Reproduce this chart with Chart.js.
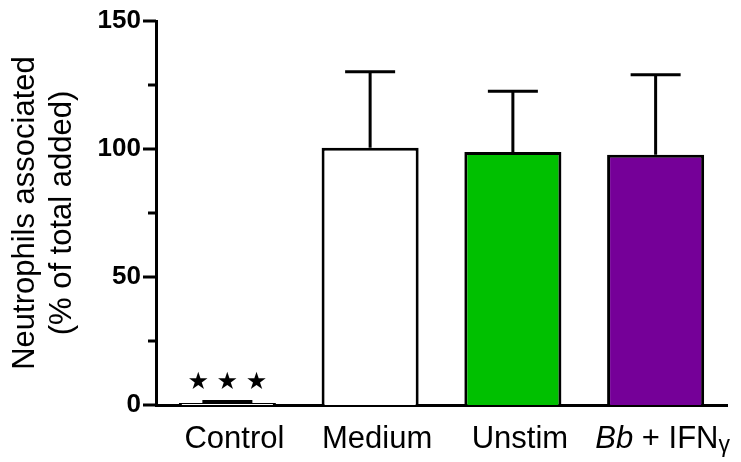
<!DOCTYPE html>
<html>
<head>
<meta charset="utf-8">
<script src="https://cdn.jsdelivr.net/npm/chart.js@4"></script>
<style>
  html, body { margin: 0; padding: 0; background: #fff; }
  #wrap { width: 741px; height: 462px; }
</style>
</head>
<body>
<div id="wrap"><canvas id="chart"></canvas></div>
<script>
// bar chart data
const categories = ['Control', 'Medium', 'Unstim', 'Bb + IFNγ'];
const means = [0.8, 100.5, 98.8, 97.8];
const errors = [0.6, 29.7, 23.8, 31.2];
const barColors = ['#ffffff', '#ffffff', '#00c000', '#750098'];
const majorTicks = [0, 50, 100, 150];
const minorTicks = [25, 75, 125];
const significance = ['★★★', '', '', ''];

// label pieces, so Bb can be italic and gamma smaller
const labelParts = [
  [{ t: 'Control' }],
  [{ t: 'Medium' }],
  [{ t: 'Unstim' }],
  [{ t: 'Bb', italic: true }, { t: ' + IFN' }, { t: 'γ', small: true }]
];

const FONT = '"Liberation Sans", Arial, sans-serif';

const errorBars = {
  id: 'errorBars',
  afterDatasetsDraw(chart) {
    const { ctx, scales: { x, y } } = chart;
    ctx.save();
    ctx.strokeStyle = '#000';
    ctx.lineWidth = 3;
    ctx.lineCap = 'butt';
    means.forEach((m, i) => {
      const cx = x.getPixelForValue(i);
      const y0 = y.getPixelForValue(m);
      const y1 = y.getPixelForValue(m + errors[i]);
      ctx.beginPath();
      ctx.moveTo(cx, y0);
      ctx.lineTo(cx, y1);
      ctx.moveTo(cx - 25, y1);
      ctx.lineTo(cx + 25, y1);
      ctx.stroke();
      if (significance[i]) {
        ctx.fillStyle = '#000';
        ctx.font = '24px "DejaVu Sans", sans-serif';
        ctx.textAlign = 'center';
        ctx.textBaseline = 'alphabetic';
        ctx.fillText(significance[i].split('').join(' '), cx, y1 - 12);
      }
    });
    ctx.restore();
  }
};

// y ticks (major longer than minor) and the category labels
const axisDecor = {
  id: 'axisDecor',
  afterDraw(chart) {
    const { ctx, scales: { x, y } } = chart;
    const left = chart.chartArea.left;
    ctx.save();
    ctx.strokeStyle = '#000';
    ctx.lineWidth = 3;
    majorTicks.forEach(v => {
      const py = y.getPixelForValue(v);
      ctx.beginPath(); ctx.moveTo(left - 13, py); ctx.lineTo(left, py); ctx.stroke();
    });
    minorTicks.forEach(v => {
      const py = y.getPixelForValue(v);
      ctx.beginPath(); ctx.moveTo(left - 8, py); ctx.lineTo(left, py); ctx.stroke();
    });

    ctx.fillStyle = '#000';
    ctx.textBaseline = 'alphabetic';
    ctx.textAlign = 'left';
    const base = y.getPixelForValue(0) + 43;
    labelParts.forEach((parts, i) => {
      const fontOf = p => (p.italic ? 'italic ' : '') + (p.small ? '23px ' : '31px ') + FONT;
      let w = 0;
      parts.forEach(p => { ctx.font = fontOf(p); w += ctx.measureText(p.t).width; });
      let px = x.getPixelForValue(i) + 7 - w / 2;
      parts.forEach(p => {
        ctx.font = fontOf(p);
        ctx.fillText(p.t, px, base + (p.small ? 4 : 0));
        px += ctx.measureText(p.t).width;
      });
    });
    ctx.restore();
  }
};

new Chart(document.getElementById('chart'), {
  type: 'bar',
  data: {
    labels: categories,
    datasets: [{
      data: means,
      backgroundColor: barColors,
      borderColor: '#000',
      borderWidth: 3,
      borderSkipped: 'start',
      barPercentage: 0.68,
      categoryPercentage: 1
    }]
  },
  options: {
    responsive: true,
    maintainAspectRatio: false,
    animation: false,
    layout: { padding: { top: 21, right: 14, left: 0, bottom: 0 } },
    plugins: { legend: { display: false }, tooltip: { enabled: false } },
    scales: {
      x: {
        grid: { display: false },
        border: { display: true, color: '#000', width: 3 },
        ticks: { display: false },
        afterFit: s => { s.height = 57; }
      },
      y: {
        min: 0,
        max: 150,
        grid: { display: false, drawTicks: false },
        border: { display: true, color: '#000', width: 3 },
        ticks: {
          stepSize: 50,
          padding: 15,
          color: '#000',
          font: { family: FONT, size: 26, weight: 'bold', lineHeight: 0.4 }
        },
        title: {
          display: true,
          text: ['Neutrophils associated', '(% of total added)'],
          color: '#000',
          font: { family: FONT, size: 31 },
          lineHeight: 1.2,
          padding: { top: 7, bottom: 0 }
        },
        afterFit: s => { s.width = 156; }
      }
    }
  },
  plugins: [errorBars, axisDecor]
});
</script>
</body>
</html>
